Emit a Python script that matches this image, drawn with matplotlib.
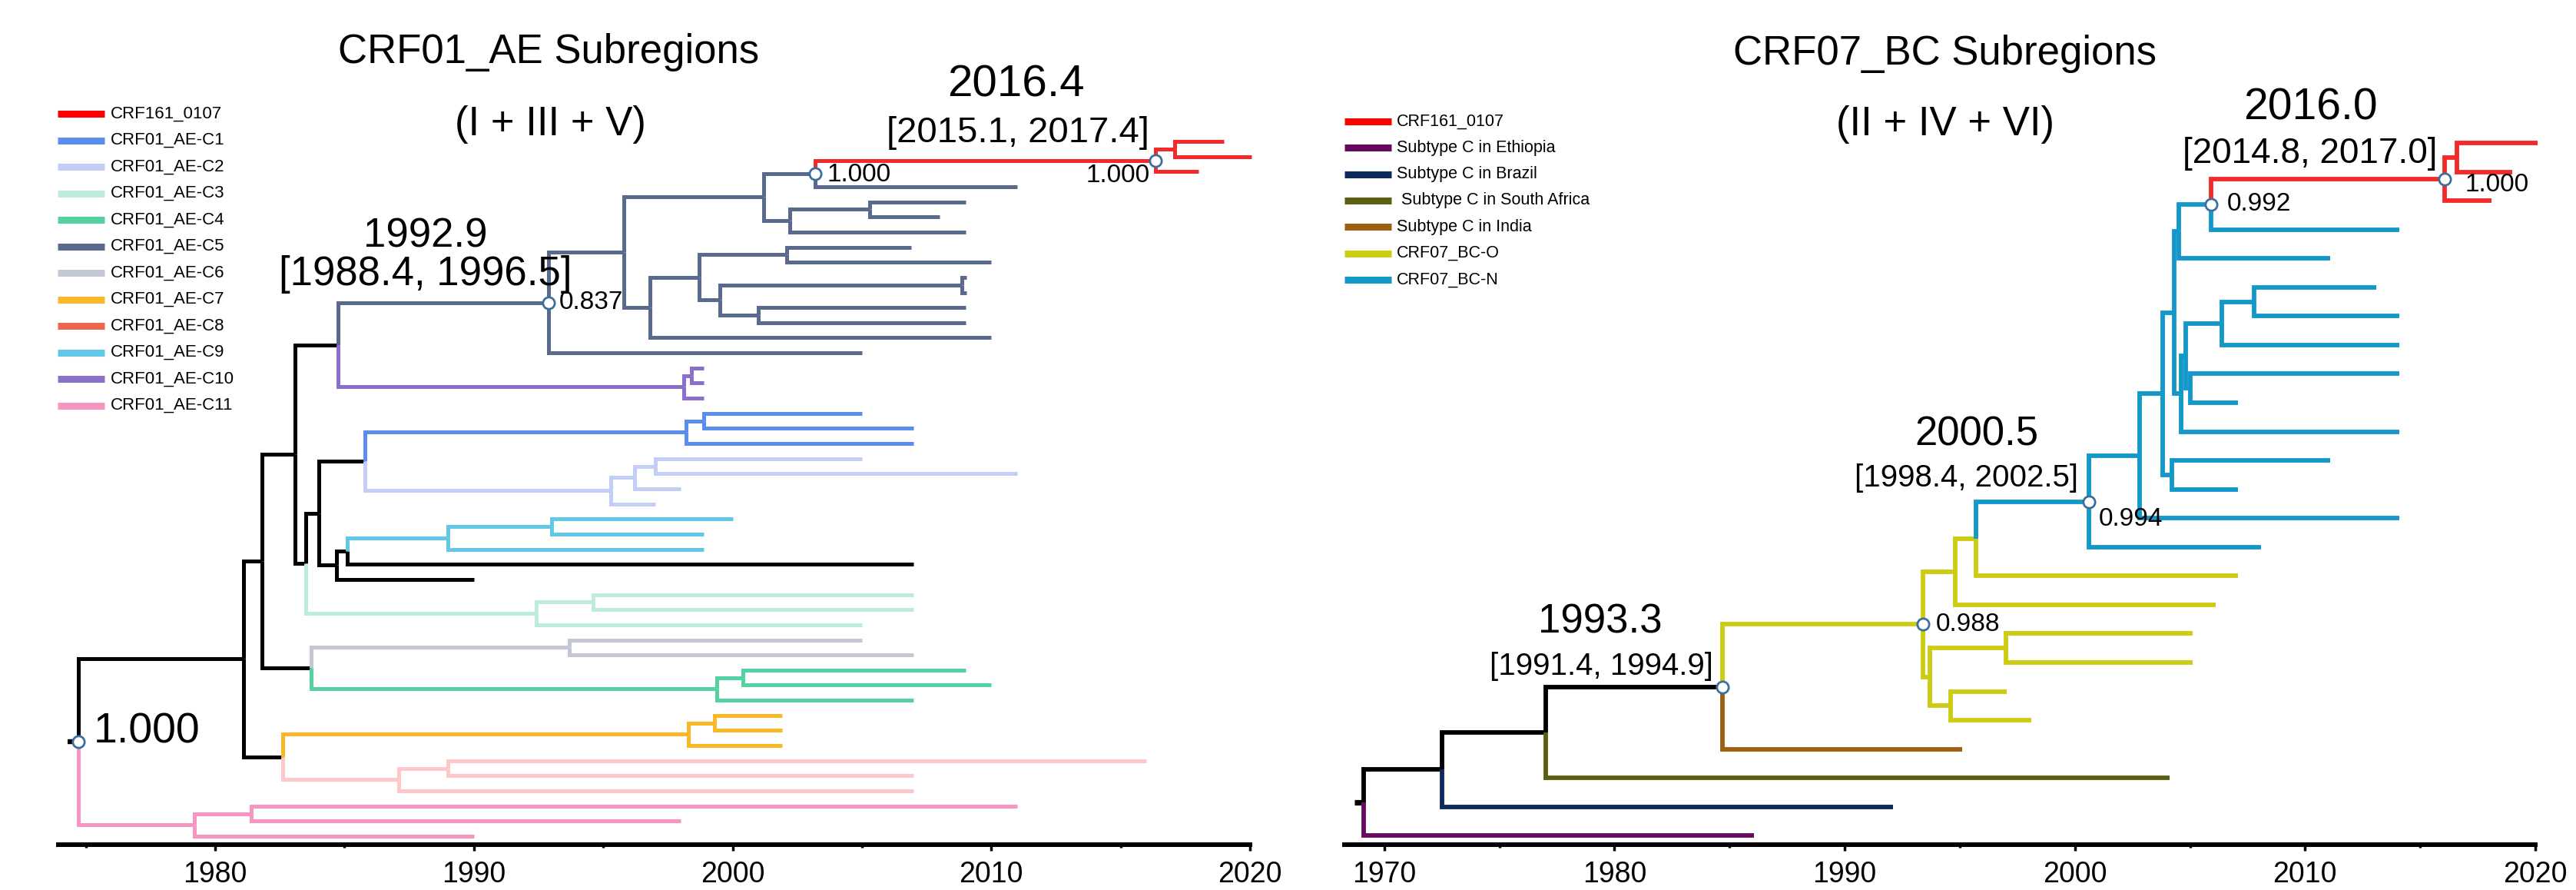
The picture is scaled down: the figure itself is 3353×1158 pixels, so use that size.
import matplotlib
matplotlib.use("Agg")
import matplotlib.pyplot as plt
from matplotlib.lines import Line2D

plt.rcParams['font.family'] = ['Liberation Sans', 'DejaVu Sans']

W, H = 3353, 1158

# ---- CRF01_AE tree: (node, parent, year), integer nodes are tips (row number)
ae_black = [("root", None, 1974.7), ("a", "root", 1981.1), ("b", "a", 1981.8),
            ("c78", "a", 1982.6), ("d", "b", 1983.1), ("c46", "b", 1983.7),
            ("e", "d", 1984.75), ("f", "d", 1983.5), ("s", "f", 1984.0),
            ("c12", "s", 1985.8), ("t", "s", 1984.7), ("u", "t", 1985.1),
            (28, "u", 2007.0), (29, "t", 1990.0)]
ae_red = [("red", "j", 2016.35), ("red2", "red", 2017.1), (0, "red2", 2019.0),
          (1, "red2", 2020.05), (2, "red", 2018.0)]
ae_c5 = [("c5", "e", 1992.9), ("g", "c5", 1995.8), ("h", "g", 2001.2), ("j", "h", 2003.2),
         (3, "j", 2011.0), ("k", "h", 2002.2), ("k2", "k", 2005.3), (4, "k2", 2009.0),
         (5, "k2", 2008.0), (6, "k", 2009.0), ("i", "g", 1996.8), ("l", "i", 1998.7),
         ("m", "l", 2002.1), (7, "m", 2006.9), (8, "m", 2010.0), ("n", "l", 1999.5),
         ("o", "n", 2008.85), (9, "o", 2009.05), (10, "o", 2009.05), ("p", "n", 2001.0),
         (11, "p", 2009.0), (12, "p", 2009.0), (13, "i", 2010.0), (14, "c5", 2005.0)]
ae_c10 = [("c10", "e", 1998.1), ("q", "c10", 1998.4), (15, "q", 1998.9),
          (16, "q", 1998.9), (17, "c10", 1998.9)]
ae_c1 = [("c1", "c12", 1998.2), ("c1a", "c1", 1998.9), (18, "c1a", 2005.0),
         (19, "c1a", 2007.0), (20, "c1", 2007.0)]
ae_c2 = [("c2", "c12", 1995.3), ("c2a", "c2", 1996.2), ("c2b", "c2a", 1997.0),
         (21, "c2b", 2005.0), (22, "c2b", 2011.0), (23, "c2a", 1998.0), (24, "c2", 1997.0)]
ae_c9 = [("c9", "u", 1989.0), ("c9a", "c9", 1993.0), (25, "c9a", 2000.0),
         (26, "c9a", 1998.9), (27, "c9", 1998.9)]
ae_c3 = [("c3", "f", 1992.4), ("c3a", "c3", 1994.6), (30, "c3a", 2007.0),
         (31, "c3a", 2007.0), (32, "c3", 2005.0)]
ae_c6 = [("c6", "c46", 1993.7), (33, "c6", 2005.0), (34, "c6", 2007.0)]
ae_c4 = [("c4", "c46", 1999.4), ("c4a", "c4", 2000.4), (35, "c4a", 2009.0),
         (36, "c4a", 2010.0), (37, "c4", 2007.0)]
ae_c7 = [("c7", "c78", 1998.3), ("c7a", "c7", 1999.3), (38, "c7a", 2001.9),
         (39, "c7a", 2001.9), (40, "c7", 2001.9)]
ae_c8 = [("c8", "c78", 1987.1), ("c8a", "c8", 1989.0), (41, "c8a", 2016.0),
         (42, "c8a", 2007.0), (43, "c8", 2007.0)]
ae_c11 = [("c11", "root", 1979.2), ("c11a", "c11", 1981.4), (44, "c11a", 2011.0),
          (45, "c11a", 1998.0), (46, "c11", 1990.0)]

# ---- CRF07_BC tree
bc_black = [("R", None, 1969.1), ("A", "R", 1972.5), ("B", "A", 1977.0), ("C", "B", 1984.7)]
bc_eth = [(24, "R", 1986.05)]
bc_bra = [(23, "A", 1992.1)]
bc_sa = [(22, "B", 2004.1)]
bc_ind = [(21, "C", 1995.1)]
bc_o = [("O", "C", 1993.4), ("O1", "O", 1994.8), ("O3", "O1", 1995.7), (15, "O3", 2007.1),
        (16, "O1", 2006.1), ("O2", "O", 1993.7), ("O4", "O2", 1997.0), (17, "O4", 2005.1),
        (18, "O4", 2005.1), ("O5", "O2", 1994.6), (19, "O5", 1997.05), (20, "O5", 1998.1)]
bc_n = [("N", "O3", 2000.6), ("N1", "N", 2002.8), ("N2", "N1", 2003.8), ("N3", "N2", 2004.3),
        ("N5", "N3", 2004.5), ("N7", "N5", 2005.93), (3, "N7", 2014.1), (4, "N5", 2011.1),
        ("N6", "N3", 2004.6), ("N8", "N6", 2004.8), ("N9", "N8", 2006.4),
        ("N11", "N9", 2007.8), (5, "N11", 2013.1), (6, "N11", 2014.1), (7, "N9", 2014.1),
        ("N10", "N8", 2005.0), (8, "N10", 2014.1), (9, "N10", 2007.1), (10, "N6", 2014.1),
        ("N4", "N2", 2004.2), (11, "N4", 2011.1), (12, "N4", 2007.1), (13, "N1", 2014.1),
        (14, "N", 2008.1)]
bc_red = [("RD", "N7", 2016.06), ("RD2", "RD", 2016.6), (0, "RD2", 2020.1),
          (1, "RD2", 2019.0), (2, "RD", 2018.1)]

# support values shown at nodes
ae_support = [("j", "1.000"), ("red", "1.000"), ("c5", "0.837"), ("root", "1.000")]
bc_support = [("RD", "1.000"), ("N7", "0.992"), ("N", "0.994"), ("O", "0.988"), ("C", "")]

ae_legend_labels = ["CRF161_0107", "CRF01_AE-C1", "CRF01_AE-C2", "CRF01_AE-C3", "CRF01_AE-C4",
                    "CRF01_AE-C5", "CRF01_AE-C6", "CRF01_AE-C7", "CRF01_AE-C8", "CRF01_AE-C9",
                    "CRF01_AE-C10", "CRF01_AE-C11"]
ae_legend_colors = ["#FF0000", "#5A8DEE", "#C2CEF6", "#BEECDC", "#55D2A2", "#5A6A8E",
                    "#C3C8D4", "#FAB826", "#EC6650", "#62C8E8", "#8A6FCB", "#F795C2"]
bc_legend_labels = ["CRF161_0107", "Subtype C in Ethiopia", "Subtype C in Brazil",
                    " Subtype C in South Africa", "Subtype C in India", "CRF07_BC-O", "CRF07_BC-N"]
bc_legend_colors = ["#FF0000", "#660A5F", "#0E2A5C", "#5C5E12", "#9B6012", "#CCCC11", "#1497C9"]

RED = "#F22A2A"
ae_groups = [(ae_black, "#000000"), (ae_red, RED), (ae_c5, "#5A6A8E"), (ae_c10, "#8A6FCB"),
             (ae_c1, "#5A8DEE"), (ae_c2, "#C2CEF6"), (ae_c9, "#62C8E8"), (ae_c3, "#BEECDC"),
             (ae_c6, "#C3C8D4"), (ae_c4, "#55D2A2"), (ae_c7, "#FAB826"), (ae_c8, "#FCC8CA"),
             (ae_c11, "#F795C2")]
bc_groups = [(bc_black, "#000000"), (bc_eth, "#660A5F"), (bc_bra, "#0E2A5C"),
             (bc_sa, "#5C5E12"), (bc_ind, "#9B6012"), (bc_o, "#CCCC11"), (bc_n, "#1497C9"),
             (bc_red, RED)]


def px(x, y):
    return x / W, 1 - y / H


def draw_tree(ax, groups, lw, stub):
    parent, year, colour = {}, {}, {}
    for rows, col in groups:
        for name, par, yr in rows:
            parent[name] = par
            year[name] = yr
            colour[name] = col
    kids = {}
    for n, p in parent.items():
        kids.setdefault(p, []).append(n)
    ypos = {}

    def gety(n):
        if isinstance(n, int):
            return n
        if n not in ypos:
            ys = [gety(k) for k in kids[n]]
            ypos[n] = (min(ys) + max(ys)) / 2
        return ypos[n]

    for n, p in parent.items():
        if p is None:
            ax.plot([stub, year[n]], [gety(n), gety(n)], color="black", lw=lw + 1,
                    solid_capstyle="butt", clip_on=False)
            continue
        ax.plot([year[p], year[p], year[n]], [gety(p), gety(n), gety(n)],
                color=colour[n], lw=lw, solid_capstyle="butt", solid_joinstyle="miter",
                clip_on=False)
    return year, gety


def style_axis(ax, lo, majors, minors):
    ax.set_xlim(lo, 2020)
    for s in ["top", "right", "left"]:
        ax.spines[s].set_visible(False)
    ax.spines["bottom"].set_linewidth(4.3)
    ax.set_yticks([])
    ax.set_xticks(majors)
    ax.set_xticks(minors, minor=True)
    ax.tick_params(axis="x", which="major", length=6, width=2.5, labelsize=27, pad=9)
    ax.tick_params(axis="x", which="minor", length=3, width=2.5)
    ax.patch.set_alpha(0)


def mark(ax, x, y):
    ax.plot([x], [y], marker="o", ms=11, mfc="white", mec="#3C6E9E", mew=2,
            zorder=5, clip_on=False)


fig = plt.figure(figsize=(W / 100, H / 100), dpi=100)
ax1 = fig.add_axes([76 / W, 1 - 1099 / H, (1627 - 76) / W, 1099 / H])
ax2 = fig.add_axes([1750 / W, 1 - 1099 / H, (3300 - 1750) / W, 1099 / H])

ax1.set_ylim(46.56, -9.364)
ax2.set_ylim(24.31, -4.952)

yr1, gy1 = draw_tree(ax1, ae_groups, 3.6, 1974.3)
yr2, gy2 = draw_tree(ax2, bc_groups, 4.2, 1968.7)

style_axis(ax1, 1973.94, [1980, 1990, 2000, 2010, 2020], [1975, 1985, 1995, 2005, 2015])
style_axis(ax2, 1968.27, [1970, 1980, 1990, 2000, 2010, 2020],
           [1975, 1985, 1995, 2005, 2015])

# node circles and support labels (offsets in pixels)
ae_offsets = {"j": (15, -2, "left", 24), "red": (-7, -20, "right", 24),
              "c5": (13, 0, "left", 24), "root": (20, 13, "left", 40)}
for node, txt in ae_support:
    x, y = yr1[node], gy1(node)
    mark(ax1, x, y)
    dx, dy, ha, fs = ae_offsets[node]
    ax1.annotate(txt, (x, y), xytext=(dx, dy), textcoords="offset pixels",
                 ha=ha, va="center", fontsize=fs)

bc_offsets = {"RD": (27, -8, "left", 24), "N7": (20, 0, "left", 24),
              "N": (13, -23, "left", 24), "O": (17, 0, "left", 24), "C": (0, 0, "left", 24)}
for node, txt in bc_support:
    x, y = yr2[node], gy2(node)
    mark(ax2, x, y)
    dx, dy, ha, fs = bc_offsets[node]
    if txt:
        ax2.annotate(txt, (x, y), xytext=(dx, dy), textcoords="offset pixels",
                     ha=ha, va="center", fontsize=fs)

# titles and date labels
texts = [
    (714, 68, "CRF01_AE Subregions", 38), (716, 162, "(I + III + V)", 38),
    (1322, 110, "2016.4", 42), (1325, 173, "[2015.1, 2017.4]", 34),
    (554, 307, "1992.9", 38), (554, 357, "[1988.4, 1996.5]", 38),
    (2532, 70, "CRF07_BC Subregions", 38), (2532, 162, "(II + IV + VI)", 38),
    (3007, 141, "2016.0", 41), (3007, 200, "[2014.8, 2017.0]", 33),
    (2573, 565, "2000.5", 38), (2560, 622, "[1998.4, 2002.5]", 29),
    (2083, 809, "1993.3", 38), (2084, 867, "[1991.4, 1994.9]", 29),
]
for x, y, s, fs in texts:
    fx, fy = px(x, y)
    fig.text(fx, fy, s, ha="center", va="center", fontsize=fs)

# legends
for k, (lab, col) in enumerate(zip(ae_legend_labels, ae_legend_colors)):
    y = 148 + 34.5 * k
    (x0, fy), (x1, _) = px(75, y), px(136, y)
    fig.add_artist(Line2D([x0, x1], [fy, fy], transform=fig.transFigure, color=col, lw=6.5,
                          solid_capstyle="butt"))
    fig.text(px(144, y)[0], fy, lab, ha="left", va="center", fontsize=16)

for k, (lab, col) in enumerate(zip(bc_legend_labels, bc_legend_colors)):
    y = 158 + 34.3 * k
    (x0, fy), (x1, _) = px(1750, y), px(1811, y)
    fig.add_artist(Line2D([x0, x1], [fy, fy], transform=fig.transFigure, color=col, lw=6.5,
                          solid_capstyle="butt"))
    fig.text(px(1818, y)[0], fy, lab, ha="left", va="center", fontsize=15.5)

fig.savefig("out.png", dpi=100)
